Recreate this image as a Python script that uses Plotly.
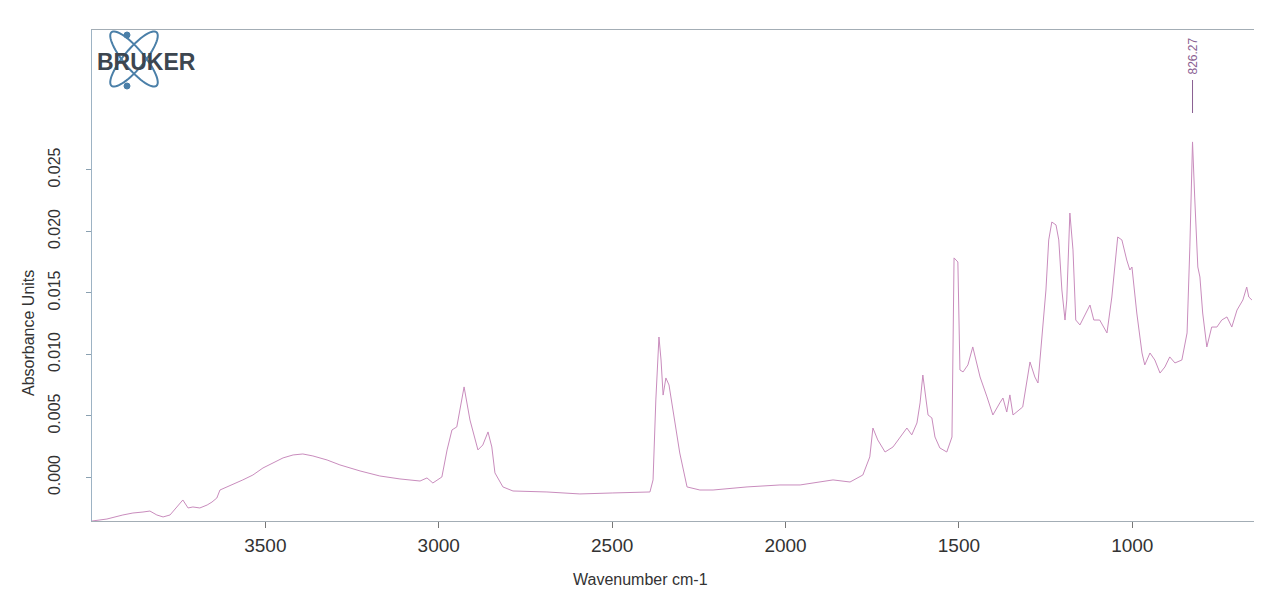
import numpy as np
import plotly.graph_objects as go

# ---- data ----
wavenumber = [4000, 3957, 3911, 3882, 3853, 3833, 3813, 3795, 3775, 3752, 3738, 3723, 3709, 3689,
              3668, 3654, 3640, 3631, 3611, 3582, 3565, 3536, 3507, 3478, 3449, 3420, 3392, 3363,
              3322, 3285, 3227, 3170, 3112, 3054, 3034, 3017, 2991, 2976, 2962, 2948, 2927, 2910,
              2887, 2873, 2858, 2847, 2838, 2815, 2786, 2688, 2593, 2498, 2391, 2382, 2374, 2365,
              2359, 2353, 2345, 2336, 2325, 2305, 2284, 2247, 2209, 2111, 2016, 1958, 1863, 1814,
              1777, 1757, 1748, 1734, 1713, 1690, 1650, 1636, 1621, 1612, 1604, 1595, 1589, 1578,
              1569, 1555, 1535, 1520, 1514, 1503, 1497, 1488, 1474, 1460, 1439, 1419, 1402, 1382,
              1373, 1362, 1353, 1344, 1316, 1295, 1281, 1272, 1261, 1249, 1241, 1232, 1220, 1212,
              1203, 1194, 1189, 1180, 1171, 1163, 1151, 1137, 1122, 1111, 1094, 1073, 1059, 1042,
              1030, 1016, 1007, 1001, 987, 972, 964, 949, 935, 920, 906, 892, 877, 857, 842, 834,
              826.27, 820, 811, 805, 797, 785, 771, 756, 742, 727, 713, 698, 681, 670, 664, 655]
absorbance = [-0.00354, -0.00338, -0.00305, -0.00289, -0.00281, -0.00273, -0.00305, -0.00321,
              -0.00305, -0.00224, -0.00183, -0.00248, -0.00240, -0.00248, -0.00224, -0.00200,
              -0.00167, -0.00102, -0.00077, -0.00045, -0.00020, 0.00020, 0.00077, 0.00118,
              0.00159, 0.00183, 0.00191, 0.00175, 0.00142, 0.00102, 0.00053, 0.00012, -0.00012,
              -0.00029, -0.00004, -0.00045, 0.00004, 0.00224, 0.00386, 0.00411, 0.00736, 0.00467,
              0.00224, 0.00264, 0.00370, 0.00248, 0.00037, -0.00077, -0.00110, -0.00118, -0.00134,
              -0.00126, -0.00118, -0.00020, 0.00630, 0.01142, 0.00955, 0.00670, 0.00809, 0.00752,
              0.00548, 0.00199, -0.00077, -0.00102, -0.00102, -0.00077, -0.00061, -0.00061,
              -0.00020, -0.00037, 0.00020, 0.00167, 0.00402, 0.00305, 0.00207, 0.00248, 0.00402,
              0.00346, 0.00443, 0.00606, 0.00833, 0.00606, 0.00508, 0.00484, 0.00329, 0.00240,
              0.00207, 0.00329, 0.01785, 0.01752, 0.00874, 0.00858, 0.00915, 0.01061, 0.00817,
              0.00655, 0.00508, 0.00606, 0.00646, 0.00532, 0.00671, 0.00508, 0.00573, 0.00939,
              0.00817, 0.00768, 0.01118, 0.01524, 0.01931, 0.02077, 0.02053, 0.01931, 0.01524,
              0.01280, 0.01443, 0.02150, 0.01850, 0.01280, 0.01240, 0.01321, 0.01402, 0.01280,
              0.01280, 0.01175, 0.01467, 0.01955, 0.01931, 0.01768, 0.01687, 0.01711, 0.01337,
              0.01012, 0.00915, 0.01012, 0.00955, 0.00849, 0.00898, 0.00980, 0.00931, 0.00955,
              0.01175, 0.01874, 0.02728, 0.02280, 0.01711, 0.01630, 0.01337, 0.01061, 0.01223,
              0.01223, 0.01280, 0.01305, 0.01223, 0.01361, 0.01443, 0.01548, 0.01467, 0.01443]
x_ticks = [3500, 3000, 2500, 2000, 1500, 1000]
y_ticks = [0.000, 0.005, 0.010, 0.015, 0.020, 0.025]
peak_wn = 826.27
peak_label = "826.27"

# page has an 8px body margin: figure starts at (8, 8) in the window
OFF = 8
W, H = 1262 - OFF, 594 - OFF
PL, PR, PT, PB = 92, 1254, 30, 521          # plot area in window pixels
L, T = PL - OFF, PT - OFF
R = W - (PR - OFF)
B = H - (PB - OFF)
PW, PH = PR - PL, PB - PT


def px(xp):
    return (xp - PL) / PW


def py(yp):
    return (PB - yp) / PH


fig = go.Figure()
fig.add_trace(go.Scatter(x=wavenumber, y=absorbance, mode="lines",
                         line=dict(color="#c98cbd", width=1), hoverinfo="x+y",
                         showlegend=False))

axis_col = "#a3adb5"
fig.update_layout(
    width=W, height=H,
    margin=dict(l=L, r=R, t=T, b=B, autoexpand=False),
    paper_bgcolor="white", plot_bgcolor="white",
    font=dict(family="Liberation Sans, Arial, sans-serif", color="#3a3a3a"),
    xaxis=dict(range=[4000, 649], tickvals=x_ticks, ticktext=[str(v) for v in x_ticks],
               ticks="outside", ticklen=6, tickcolor="#777", showgrid=False, zeroline=False,
               showline=True, linecolor=axis_col, mirror=True, automargin=False,
               tickfont=dict(size=19, color="#333"), ticklabelstandoff=1),
    yaxis=dict(range=[-0.00354, 0.03638], tickvals=y_ticks,
               ticktext=[f"{v:.3f}" for v in y_ticks], tickangle=-90,
               ticks="outside", ticklen=5, tickcolor="#8aa0b0", showgrid=False, zeroline=False,
               showline=True, linecolor="#9db3c4", mirror=True, automargin=False,
               tickfont=dict(size=16, color="#333"), ticklabelstandoff=20),
)

annotations = [
    dict(text="Absorbance Units", x=px(28), y=py(333), xref="paper", yref="paper",
         textangle=-90, showarrow=False, font=dict(size=16, color="#333"),
         xanchor="center", yanchor="middle"),
    dict(text="Wavenumber cm-1", x=px(640), y=py(579), xref="paper", yref="paper",
         showarrow=False, font=dict(size=16, color="#333"), xanchor="center", yanchor="middle"),
    dict(text=peak_label, x=peak_wn, y=py(56), xref="x", yref="paper", textangle=-90,
         showarrow=False, font=dict(size=12, color="#8a5f92"), xanchor="center",
         yanchor="middle"),
    dict(text="<b>BRUKER</b>", x=px(146), y=py(62), xref="paper", yref="paper",
         showarrow=False, font=dict(size=23, color="#3d4650",
                                    family="Liberation Sans, Arial, sans-serif"),
         xanchor="center", yanchor="middle"),
]

shapes = [
    dict(type="line", x0=peak_wn, x1=peak_wn, y0=py(113), y1=py(80), xref="x", yref="paper",
         line=dict(color="#8a5f92", width=1)),
]

# Bruker logo orbits
cx, cy, a, b = 134, 59, 35, 10
t = np.linspace(0, 2 * np.pi, 60)
for ang in (50, -50):
    th = np.deg2rad(ang)
    xs = cx + a * np.cos(t) * np.cos(th) - b * np.sin(t) * np.sin(th)
    ys = cy + a * np.cos(t) * np.sin(th) + b * np.sin(t) * np.cos(th)
    path = "M " + " L ".join(f"{px(u):.5f},{py(v):.5f}" for u, v in zip(xs, ys)) + " Z"
    shapes.append(dict(type="path", path=path, xref="paper", yref="paper",
                       line=dict(color="#4a7fa8", width=2)))
for dx, dy in ((127, 35), (127, 86)):
    shapes.append(dict(type="circle", xref="paper", yref="paper",
                       x0=px(dx - 3), x1=px(dx + 3), y0=py(dy + 3), y1=py(dy - 3),
                       fillcolor="#4a7fa8", line=dict(color="#4a7fa8", width=1)))

fig.update_layout(annotations=annotations, shapes=shapes)
fig.write_html("out.html")
